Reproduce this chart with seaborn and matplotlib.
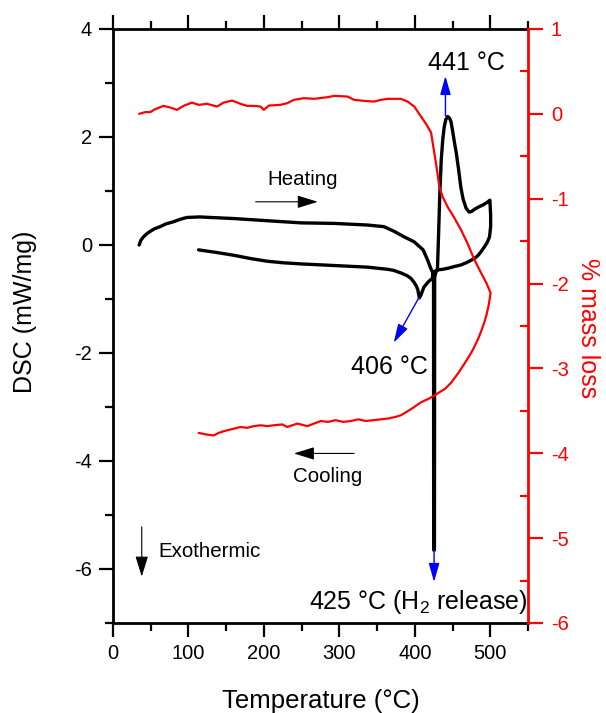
import matplotlib
matplotlib.use("Agg")
import matplotlib.pyplot as plt
from matplotlib.ticker import MultipleLocator
import seaborn as sns
import pandas as pd

# DSC, heating run (temperature in C, DSC in mW/mg)
heat_temp = [34.6, 37, 40.3, 45, 49, 55, 62.5, 70, 80, 90, 98, 115, 129, 160, 204, 249, 293, 337, 359,
             373, 386, 399, 411, 417, 421, 424, 424.8, 425.0, 426.0, 426.3, 428, 430, 431.5, 433, 435,
             437, 439, 441, 443.5, 446, 448, 450, 452.5, 455, 458, 461, 464, 468, 472, 475, 479, 484,
             490, 496, 499.5]
heat_dsc = [0.00, 0.09, 0.15, 0.21, 0.25, 0.30, 0.34, 0.39, 0.43, 0.48, 0.51, 0.52, 0.51, 0.49, 0.45,
            0.41, 0.40, 0.37, 0.34, 0.25, 0.15, 0.06, -0.09, -0.28, -0.43, -0.52, -0.60, -5.65, -5.65,
            -0.60, -0.50, -0.45, 0.20, 0.90, 1.57, 1.95, 2.19, 2.32, 2.38, 2.35, 2.28, 2.12, 1.90, 1.70,
            1.40, 1.07, 0.85, 0.68, 0.61, 0.62, 0.66, 0.70, 0.74, 0.79, 0.83]

# DSC, cooling run
cool_temp = [500.5, 500.5, 499, 496, 492, 488, 484, 480, 475, 468, 461, 452, 444, 437, 431, 425, 423,
             418, 412, 408, 406, 404, 402, 399, 395, 390, 382, 372, 364, 337, 293, 249, 226, 204, 182,
             160, 138, 113.4]
cool_dsc = [0.55, 0.34, 0.15, 0.05, -0.04, -0.12, -0.19, -0.24, -0.28, -0.33, -0.37, -0.40, -0.43,
            -0.45, -0.46, -0.50, -0.62, -0.68, -0.78, -0.93, -0.98, -0.83, -0.76, -0.69, -0.62, -0.57,
            -0.52, -0.47, -0.45, -0.41, -0.38, -0.35, -0.33, -0.30, -0.25, -0.19, -0.14, -0.09]

# mass loss (%), heating
mass_heat_temp = [34.6, 42.6, 49.2, 55.9, 66.9, 75.8, 84.7, 93.5, 104.6, 113.5, 124.6, 137.9, 146.7,
                  157.8, 168.9, 177.8, 186.6, 195.5, 199.9, 206.6, 222, 231, 239.8, 253, 266.4, 284.2,
                  293, 310.8, 319.6, 332.9, 346.2, 355, 364, 381.6, 390.5, 399.3, 408.2, 415, 421.5,
                  428, 432.6, 437, 443.7, 452, 461.4, 470, 479, 487, 494.7, 500.4]
mass_heat = [0.00, 0.02, 0.02, 0.055, 0.094, 0.075, 0.047, 0.094, 0.133, 0.106, 0.118, 0.086, 0.133,
             0.157, 0.118, 0.094, 0.094, 0.086, 0.047, 0.098, 0.106, 0.126, 0.165, 0.185, 0.177,
             0.196, 0.212, 0.204, 0.165, 0.153, 0.145, 0.165, 0.177, 0.177, 0.145, 0.086, -0.032,
             -0.12, -0.22, -0.58, -0.86, -0.98, -1.10, -1.22, -1.37, -1.53, -1.72, -1.86, -1.99, -2.11]

# mass loss (%), cooling
mass_cool_temp = [498, 495, 492, 488, 484, 477, 471, 466, 458, 448, 440, 431, 420, 408, 395, 382, 375,
                  365, 355, 345, 335, 325, 315, 305, 295, 285, 275.3, 266.4, 257.6, 244.3, 231, 224.3,
                  213.2, 204.4, 195.5, 186.6, 177.8, 168.9, 155.6, 146.7, 140, 133.4, 124.6, 113.5]
mass_cool = [-2.25, -2.37, -2.46, -2.56, -2.65, -2.78, -2.87, -2.94, -3.05, -3.17, -3.24, -3.29, -3.35,
             -3.40, -3.48, -3.55, -3.57, -3.59, -3.60, -3.61, -3.62, -3.60, -3.62, -3.63, -3.61, -3.63,
             -3.62, -3.65, -3.68, -3.65, -3.69, -3.66, -3.67, -3.68, -3.67, -3.68, -3.70, -3.69, -3.72,
             -3.74, -3.76, -3.79, -3.78, -3.76]

sns.set_style("ticks", {"axes.edgecolor": "black", "xtick.color": "black", "ytick.color": "black",
                        "text.color": "black", "axes.labelcolor": "black"})
plt.rcParams["font.family"] = ["Liberation Sans", "DejaVu Sans"]
plt.rcParams["mathtext.fontset"] = "custom"
plt.rcParams["mathtext.rm"] = "Liberation Sans"
plt.rcParams["axes.unicode_minus"] = False

dsc = pd.DataFrame({"T": heat_temp + cool_temp, "DSC": heat_dsc + cool_dsc})
tga = pd.DataFrame({"T": mass_heat_temp + mass_cool_temp, "mass": mass_heat + mass_cool})

fig = plt.figure(figsize=(6.06, 7.13), dpi=100)
ax = fig.add_axes([113 / 606, 1 - 623 / 713, 415 / 606, 594 / 713])
ax2 = ax.twinx()

sns.lineplot(data=dsc, x="T", y="DSC", sort=False, estimator=None, color="black", lw=2.4, ax=ax)
sns.lineplot(data=tga, x="T", y="mass", sort=False, estimator=None, color="red", lw=1.6, ax=ax2)

ax.set_xlim(0, 550)
ax.set_ylim(-7, 4)
ax2.set_ylim(-6, 1)
ax.set_xticks(range(0, 501, 100))
ax.xaxis.set_minor_locator(MultipleLocator(50))
ax.set_yticks([-6, -4, -2, 0, 2, 4])
ax.yaxis.set_minor_locator(MultipleLocator(1))
ax2.set_yticks(range(-6, 2))
ax2.yaxis.set_minor_locator(MultipleLocator(0.5))

for s in ax.spines.values():
    s.set_linewidth(2)
ax.spines["right"].set_visible(False)
for s in ["left", "top", "bottom"]:
    ax2.spines[s].set_visible(False)
ax2.spines["right"].set_color("red")
ax2.spines["right"].set_linewidth(2)

ax.tick_params(axis="both", which="major", direction="out", length=10, width=1.6, labelsize=14.5, pad=5)
ax.tick_params(axis="both", which="minor", direction="out", length=5.5, width=1.6)
ax.tick_params(axis="x", which="both", top=True, labeltop=False)
ax2.tick_params(axis="y", which="major", direction="out", length=10.5, width=1.6, colors="red",
                labelsize=14.5, pad=6)
ax2.tick_params(axis="y", which="minor", direction="in", length=6, width=1.6, colors="red")

ax.set_xlabel("Temperature (°C)", fontsize=18.5, va="baseline")
ax.xaxis.set_label_coords(0.5, -0.143)
ax.set_ylabel("DSC (mW/mg)", fontsize=18, ha="center", va="center")
ax.yaxis.set_label_coords(-0.212, 0.524)
ax2.set_ylabel("% mass loss", fontsize=18, color="red", rotation=270, ha="center", va="center")
ax2.yaxis.set_label_coords(1.145, 0.497)

black_arrow = dict(arrowstyle="-|>,head_length=0.9,head_width=0.28", color="black", lw=0.8,
                   mutation_scale=14, shrinkA=0, shrinkB=0)
blue_arrow = dict(arrowstyle="-|>,head_length=0.95,head_width=0.27", color="blue", lw=1,
                  mutation_scale=12, shrinkA=0, shrinkB=0)

# heating / cooling / exothermic markers
ax.text(251.3, 1.11, "Heating", ha="center", va="baseline", fontsize=14.8)
ax.annotate("", xy=(271.3, 0.80), xytext=(189, 0.80), arrowprops=black_arrow)
ax.text(284, -4.38, "Cooling", ha="center", va="baseline", fontsize=14.8)
ax.annotate("", xy=(239.8, -3.86), xytext=(319.5, -3.86), arrowprops=black_arrow)
ax.text(60.3, -5.77, "Exothermic", ha="left", va="baseline", fontsize=14.8)
ax.annotate("", xy=(38.1, -6.14), xytext=(38.1, -5.22), arrowprops=black_arrow)

# peak annotations
ax.annotate("", xy=(440.6, 3.13), xytext=(440.6, 2.39), arrowprops=blue_arrow)
ax.text(468, 3.24, "441 °C", ha="center", va="baseline", fontsize=18)
ax.annotate("", xy=(372, -1.81), xytext=(405.6, -0.97), arrowprops=blue_arrow)
ax.text(366.3, -2.38, "406 °C", ha="center", va="baseline", fontsize=18)
ax.annotate("", xy=(425.5, -6.24), xytext=(425.5, -5.65), arrowprops=blue_arrow)
ax.text(259.3, -6.74, "425 °C (H$_\\mathregular{2}$ release)", ha="left", va="baseline", fontsize=18)

fig.savefig("out.png", dpi=100)
